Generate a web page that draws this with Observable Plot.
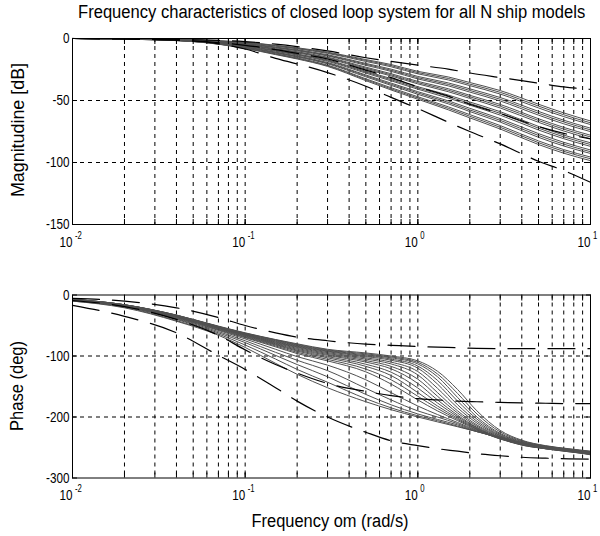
<!DOCTYPE html>
<html><head><meta charset="utf-8">
<script src="https://cdn.jsdelivr.net/npm/d3@7"></script>
<script src="https://cdn.jsdelivr.net/npm/@observablehq/plot@0.6"></script>
<style>
body{margin:0;background:#fff}
#root{position:relative;width:600px;height:536px;background:#fff;font-family:"Liberation Sans","Arial",sans-serif;color:#000;overflow:hidden}
.lbl{position:absolute;white-space:nowrap;line-height:1}
.chart{position:absolute;left:0}
</style>
</head><body><div id="root"></div>
<script>
// ---------- data ----------
const title = "Frequency characteristics of closed loop system for all N ship models";
const magLabel = "Magnitudine [dB]";
const phaseLabel = "Phase (deg)";
const xLabel = "Frequency om (rad/s)";

const xMajor = [0.01, 0.1, 1, 10];
const xExp = ["-2", "-1", "0", "1"];
const xGrid = [0.02,0.03,0.04,0.05,0.06,0.07,0.08,0.09,0.1,0.2,0.3,0.4,0.5,0.6,0.7,0.8,0.9,1,2,3,4,5,6,7,8,9];
const magTicks = [0, -50, -100, -150];
const magGrid = [-50, -100];
const phaseTicks = [0, -100, -200, -300];
const phaseGrid = [-100, -200];

// magnitude (dB) frequencies
const magFreq = [0.01, 0.02, 0.05, 0.1, 0.15, 0.2, 0.3, 0.5, 0.7, 1, 1.5, 2, 3, 5, 7, 10];
const magCurves = [
  [0,-0.2,-1.2,-3,-5.5,-7.5,-11,-17,-21,-26.5,-31,-35.5,-42,-53,-60,-66.5],
  [0,-0.2,-1.2,-3.2,-5.8,-7.9,-11.5,-17.7,-21.9,-27.5,-32.2,-36.8,-43.4,-54.5,-61.5,-68],
  [0,-0.2,-1.3,-3.5,-6.2,-8.3,-12,-18.5,-22.8,-28.5,-33.4,-38,-44.8,-56,-63,-69.4],
  [0,-0.3,-1.4,-3.9,-6.9,-9.1,-13.1,-20.1,-24.7,-30.6,-35.8,-40.6,-47.6,-58.8,-65.9,-72.3],
  [0,-0.3,-1.5,-4.1,-7.2,-9.5,-13.6,-20.8,-25.6,-31.6,-37,-41.9,-49,-60.3,-67.3,-73.7],
  [0,-0.3,-1.6,-4.4,-7.5,-9.9,-14.1,-21.6,-26.5,-32.6,-38.2,-43.2,-50.4,-61.8,-68.8,-75.1],
  [0,-0.3,-1.7,-4.8,-8.2,-10.7,-15.1,-23.1,-28.4,-34.6,-40.5,-45.8,-53.2,-64.7,-71.7,-78],
  [0,-0.3,-1.7,-5,-8.5,-11.1,-15.6,-23.9,-29.3,-35.6,-41.7,-47,-54.6,-66.1,-73.1,-79.4],
  [0,-0.3,-1.8,-5.3,-8.9,-11.6,-16.2,-24.7,-30.2,-36.6,-42.9,-48.3,-56,-67.6,-74.6,-80.9],
  [0,-0.4,-1.9,-5.8,-9.6,-12.5,-17.3,-26.4,-32.3,-38.9,-45.6,-51.2,-59,-70.9,-77.9,-84.1],
  [0,-0.4,-1.9,-6,-9.9,-12.9,-17.8,-27.1,-33.2,-39.9,-46.8,-52.4,-60.4,-72.3,-79.3,-85.5],
  [0,-0.4,-2,-6.2,-10.3,-13.3,-18.4,-27.9,-34.1,-40.9,-48,-53.7,-61.8,-73.8,-80.8,-87],
  [0,-0.4,-2.1,-6.7,-11,-14.1,-19.4,-29.4,-36,-42.9,-50.3,-56.3,-64.6,-76.7,-83.7,-89.9],
  [0,-0.4,-2.2,-6.9,-11.3,-14.5,-19.9,-30.1,-36.9,-43.9,-51.5,-57.6,-66,-78.2,-85.2,-91.3],
  [0,-0.4,-2.3,-7.1,-11.7,-14.9,-20.4,-30.9,-37.8,-45,-52.7,-58.9,-67.4,-79.7,-86.7,-92.7],
  [0,-0.5,-2.4,-7.6,-12.3,-15.7,-21.5,-32.5,-39.7,-47,-55.1,-61.4,-70.2,-82.6,-89.6,-95.6],
  [0,-0.5,-2.4,-7.8,-12.6,-16.1,-22,-33.2,-40.6,-48,-56.3,-62.7,-71.6,-84,-91,-97],
  [0,-0.5,-2.5,-8,-13,-16.5,-22.5,-34,-41.5,-49,-57.5,-64,-73,-85.5,-92.5,-98.5]
];
const magUpper  = [0,-0.2,-1,-2.5,-4.5,-6.5,-10,-15.5,-18.5,-21.5,-24.7,-27.8,-31.5,-36,-39,-41];
const magNominal= [0,-0.4,-2,-5.5,-9,-12,-16.5,-25.5,-31.5,-39,-46.5,-53,-60.5,-71,-76.5,-81];
const magLower  = [0,-0.3,-2,-8.5,-16,-20.5,-27.5,-38.5,-47.5,-56.5,-67.5,-75,-85,-99,-106.5,-116];

// phase (deg) frequencies
const phFreq = [0.01, 0.02, 0.04, 0.07, 0.1, 0.15, 0.2, 0.3, 0.5, 0.7, 1, 1.3, 1.7, 2.2, 3, 4, 5.5, 7.5, 10];
const phCurves = [
  [-7,-16,-33,-51,-62,-73,-80,-89,-95,-100,-108,-125,-155,-190,-222,-238,-247,-252,-256],
  [-7,-16,-33,-51.5,-62.5,-73.5,-81,-90,-96.5,-101.5,-110.5,-129.5,-161.5,-195,-224.5,-239,-247.5,-252.5,-256.5],
  [-7,-16,-33,-52,-63,-74,-82,-91,-98,-103,-113,-134,-168,-200,-227,-240,-248,-253,-257],
  [-7,-16,-33.5,-52,-63.5,-75,-83,-92,-99.5,-105,-116.5,-140,-174,-203.5,-228.5,-241,-248.5,-253.5,-257.5],
  [-7,-16,-34,-52,-64,-76,-84,-93,-101,-107,-120,-146,-180,-207,-230,-242,-249,-254,-258],
  [-7.5,-16.5,-34,-52.5,-64.5,-77,-85,-94.5,-103,-110,-125.5,-153,-185,-210,-231,-242.5,-249.5,-254.5,-258],
  [-8,-17,-34,-53,-65,-78,-86,-96,-105,-113,-131,-160,-190,-213,-232,-243,-250,-255,-258],
  [-8,-17,-34.5,-53.5,-65.5,-79,-87.5,-97.5,-107.5,-117,-138,-166,-193.5,-215,-233,-243.5,-250.5,-255,-258.5],
  [-8,-17,-35,-54,-66,-80,-89,-99,-110,-121,-145,-172,-197,-217,-234,-244,-251,-255,-259],
  [-8,-17,-35.5,-54.5,-67,-81,-90.5,-101,-113.5,-126.5,-152.5,-177,-199.5,-218,-234.5,-244.5,-251,-255.5,-259],
  [-8,-17,-36,-55,-68,-82,-92,-103,-117,-132,-160,-182,-202,-219,-235,-245,-251,-256,-259],
  [-8,-17.5,-36.5,-56,-69,-83.5,-94,-105.5,-121.5,-139,-166,-186,-204,-220,-235.5,-245,-251.5,-256,-259.5],
  [-8,-18,-37,-57,-70,-85,-96,-108,-126,-146,-172,-190,-206,-221,-236,-245,-252,-256,-260],
  [-9,-18,-38,-58,-72,-89,-101,-115,-139,-160,-182,-196,-209,-222,-236,-246,-252,-256,-260],
  [-9,-19,-39,-60,-75,-94,-107,-124,-153,-172,-190,-200,-211,-223,-235,-246,-252,-257,-261],
  [-9,-19,-40,-62,-78,-99,-114,-134,-163,-180,-195,-204,-213,-224,-234,-245,-252,-257,-261],
  [-10,-20,-42,-64,-82,-105,-122,-143,-170,-185,-198,-206,-215,-224,-234,-244,-251,-256,-261],
  [-10,-21,-43,-66,-86,-112,-130,-152,-175,-188,-200,-208,-216,-224,-233,-242,-250,-256,-262]
];
const phUpper   = [-5.5,-10,-21,-37,-50,-62,-69,-75,-80.5,-82.5,-84.5,-85.5,-86.5,-87.5,-88,-88,-88,-88,-88];
const phNominal = [-9,-19,-40,-66,-90,-114,-128,-145,-158,-165,-170,-172,-174,-175,-176,-177,-177.5,-178,-178];
const phLower   = [-17,-35,-62,-99,-122,-152,-174,-200,-225,-239,-247,-252,-256,-260,-263.5,-266,-267.5,-268.5,-269];

// ---------- helpers ----------
const FONT = '"Liberation Sans","Arial",sans-serif';
const toRows = (freq, curves, tag) => curves.flatMap((c, i) => c.map((v, j) => ({w: freq[j], v, id: tag + i})));
const oneRow = (freq, vals, tag) => vals.map((v, j) => ({w: freq[j], v, id: tag}));
const xAll = [...xMajor, ...xGrid];
const blank = () => "";

function bode({yDomain, yTicks, yGrid, solid, dashed, height, marginTop, marginBottom}) {
  return Plot.plot({
    width: 600, height, marginLeft: 72, marginRight: 10, marginTop, marginBottom,
    style: {fontFamily: FONT, background: "white", overflow: "visible"},
    x: {type: "log", domain: [0.01, 10], axis: null},
    y: {domain: yDomain, axis: null, label: null},
    marks: [
      Plot.ruleX(xGrid, {stroke: "black", strokeWidth: 1, strokeDasharray: "4,4"}),
      Plot.ruleY(yGrid, {stroke: "black", strokeWidth: 1, strokeDasharray: "4,4"}),
      Plot.line(solid, {x: "w", y: "v", z: "id", stroke: "#505050", strokeWidth: 1, curve: "monotone-x"}),
      Plot.line(dashed, {x: "w", y: "v", z: "id", stroke: "black", strokeWidth: 1.2, strokeDasharray: "27,13", curve: "monotone-x"}),
      // inward tick marks on all four sides
      Plot.axisX({anchor: "bottom", ticks: xAll, tickSize: -5, tickFormat: blank, label: null}),
      Plot.axisX({anchor: "top", ticks: xAll, tickSize: -5, tickFormat: blank, label: null}),
      Plot.axisY({anchor: "right", ticks: yTicks, tickSize: -5, tickFormat: blank, label: null}),
      Plot.axisY({anchor: "left", ticks: yTicks, tickSize: -5, tickPadding: 8, fontSize: 15, label: null, tickFormat: d => String(d)}),
      Plot.frame({stroke: "black", strokeWidth: 1}),
      Plot.text(xMajor, {x: d => d, frameAnchor: "bottom", text: () => "10", textAnchor: "end", dx: 0, dy: 22, fontSize: 15}),
      Plot.text(xMajor, {x: d => d, frameAnchor: "bottom", text: (d, i) => xExp[i], textAnchor: "start", dx: 2.5, dy: 14, fontSize: 10})
    ]
  });
}

// condense svg texts (narrow face look of the original)
function condense(svg, k) {
  svg.querySelectorAll("text").forEach(t => {
    const len = t.getComputedTextLength();
    if (len > 0) {
      t.setAttribute("textLength", (len * k).toFixed(1));
      t.setAttribute("lengthAdjust", "spacingAndGlyphs");
    }
  });
}

const root = document.getElementById("root");

const mag = bode({
  yDomain: [-150, 0], yTicks: magTicks, yGrid: magGrid,
  solid: toRows(magFreq, magCurves, "m"),
  dashed: [...oneRow(magFreq, magUpper, "u"), ...oneRow(magFreq, magNominal, "n"), ...oneRow(magFreq, magLower, "l")],
  height: 262, marginTop: 38, marginBottom: 38
});
mag.classList.add("chart"); mag.style.top = "0px";
root.appendChild(mag);
condense(mag, 0.78);

const ph = bode({
  yDomain: [-300, 0], yTicks: phaseTicks, yGrid: phaseGrid,
  solid: toRows(phFreq, phCurves, "p"),
  dashed: [...oneRow(phFreq, phUpper, "u"), ...oneRow(phFreq, phNominal, "n"), ...oneRow(phFreq, phLower, "l")],
  height: 280, marginTop: 38.5, marginBottom: 58.5
});
ph.classList.add("chart"); ph.style.top = "256px";
root.appendChild(ph);
condense(ph, 0.78);

function label(text, cx, cy, size, targetLen, rotate) {
  const d = document.createElement("div");
  d.className = "lbl"; d.textContent = text;
  d.style.fontSize = size + "px";
  root.appendChild(d);
  const w = d.offsetWidth, h = d.offsetHeight;
  const s = targetLen / w;
  d.style.left = (cx - w / 2) + "px";
  d.style.top = (cy - h / 2) + "px";
  d.style.transform = (rotate ? "rotate(-90deg) " : "") + "scaleX(" + s.toFixed(3) + ")";
}
label(title, 331, 12, 18, 507, false);
label(magLabel, 17, 130, 18, 134, true);
label(phaseLabel, 17, 386, 18, 90, true);
label(xLabel, 330, 521, 18, 157, false);
</script>
</body></html>
